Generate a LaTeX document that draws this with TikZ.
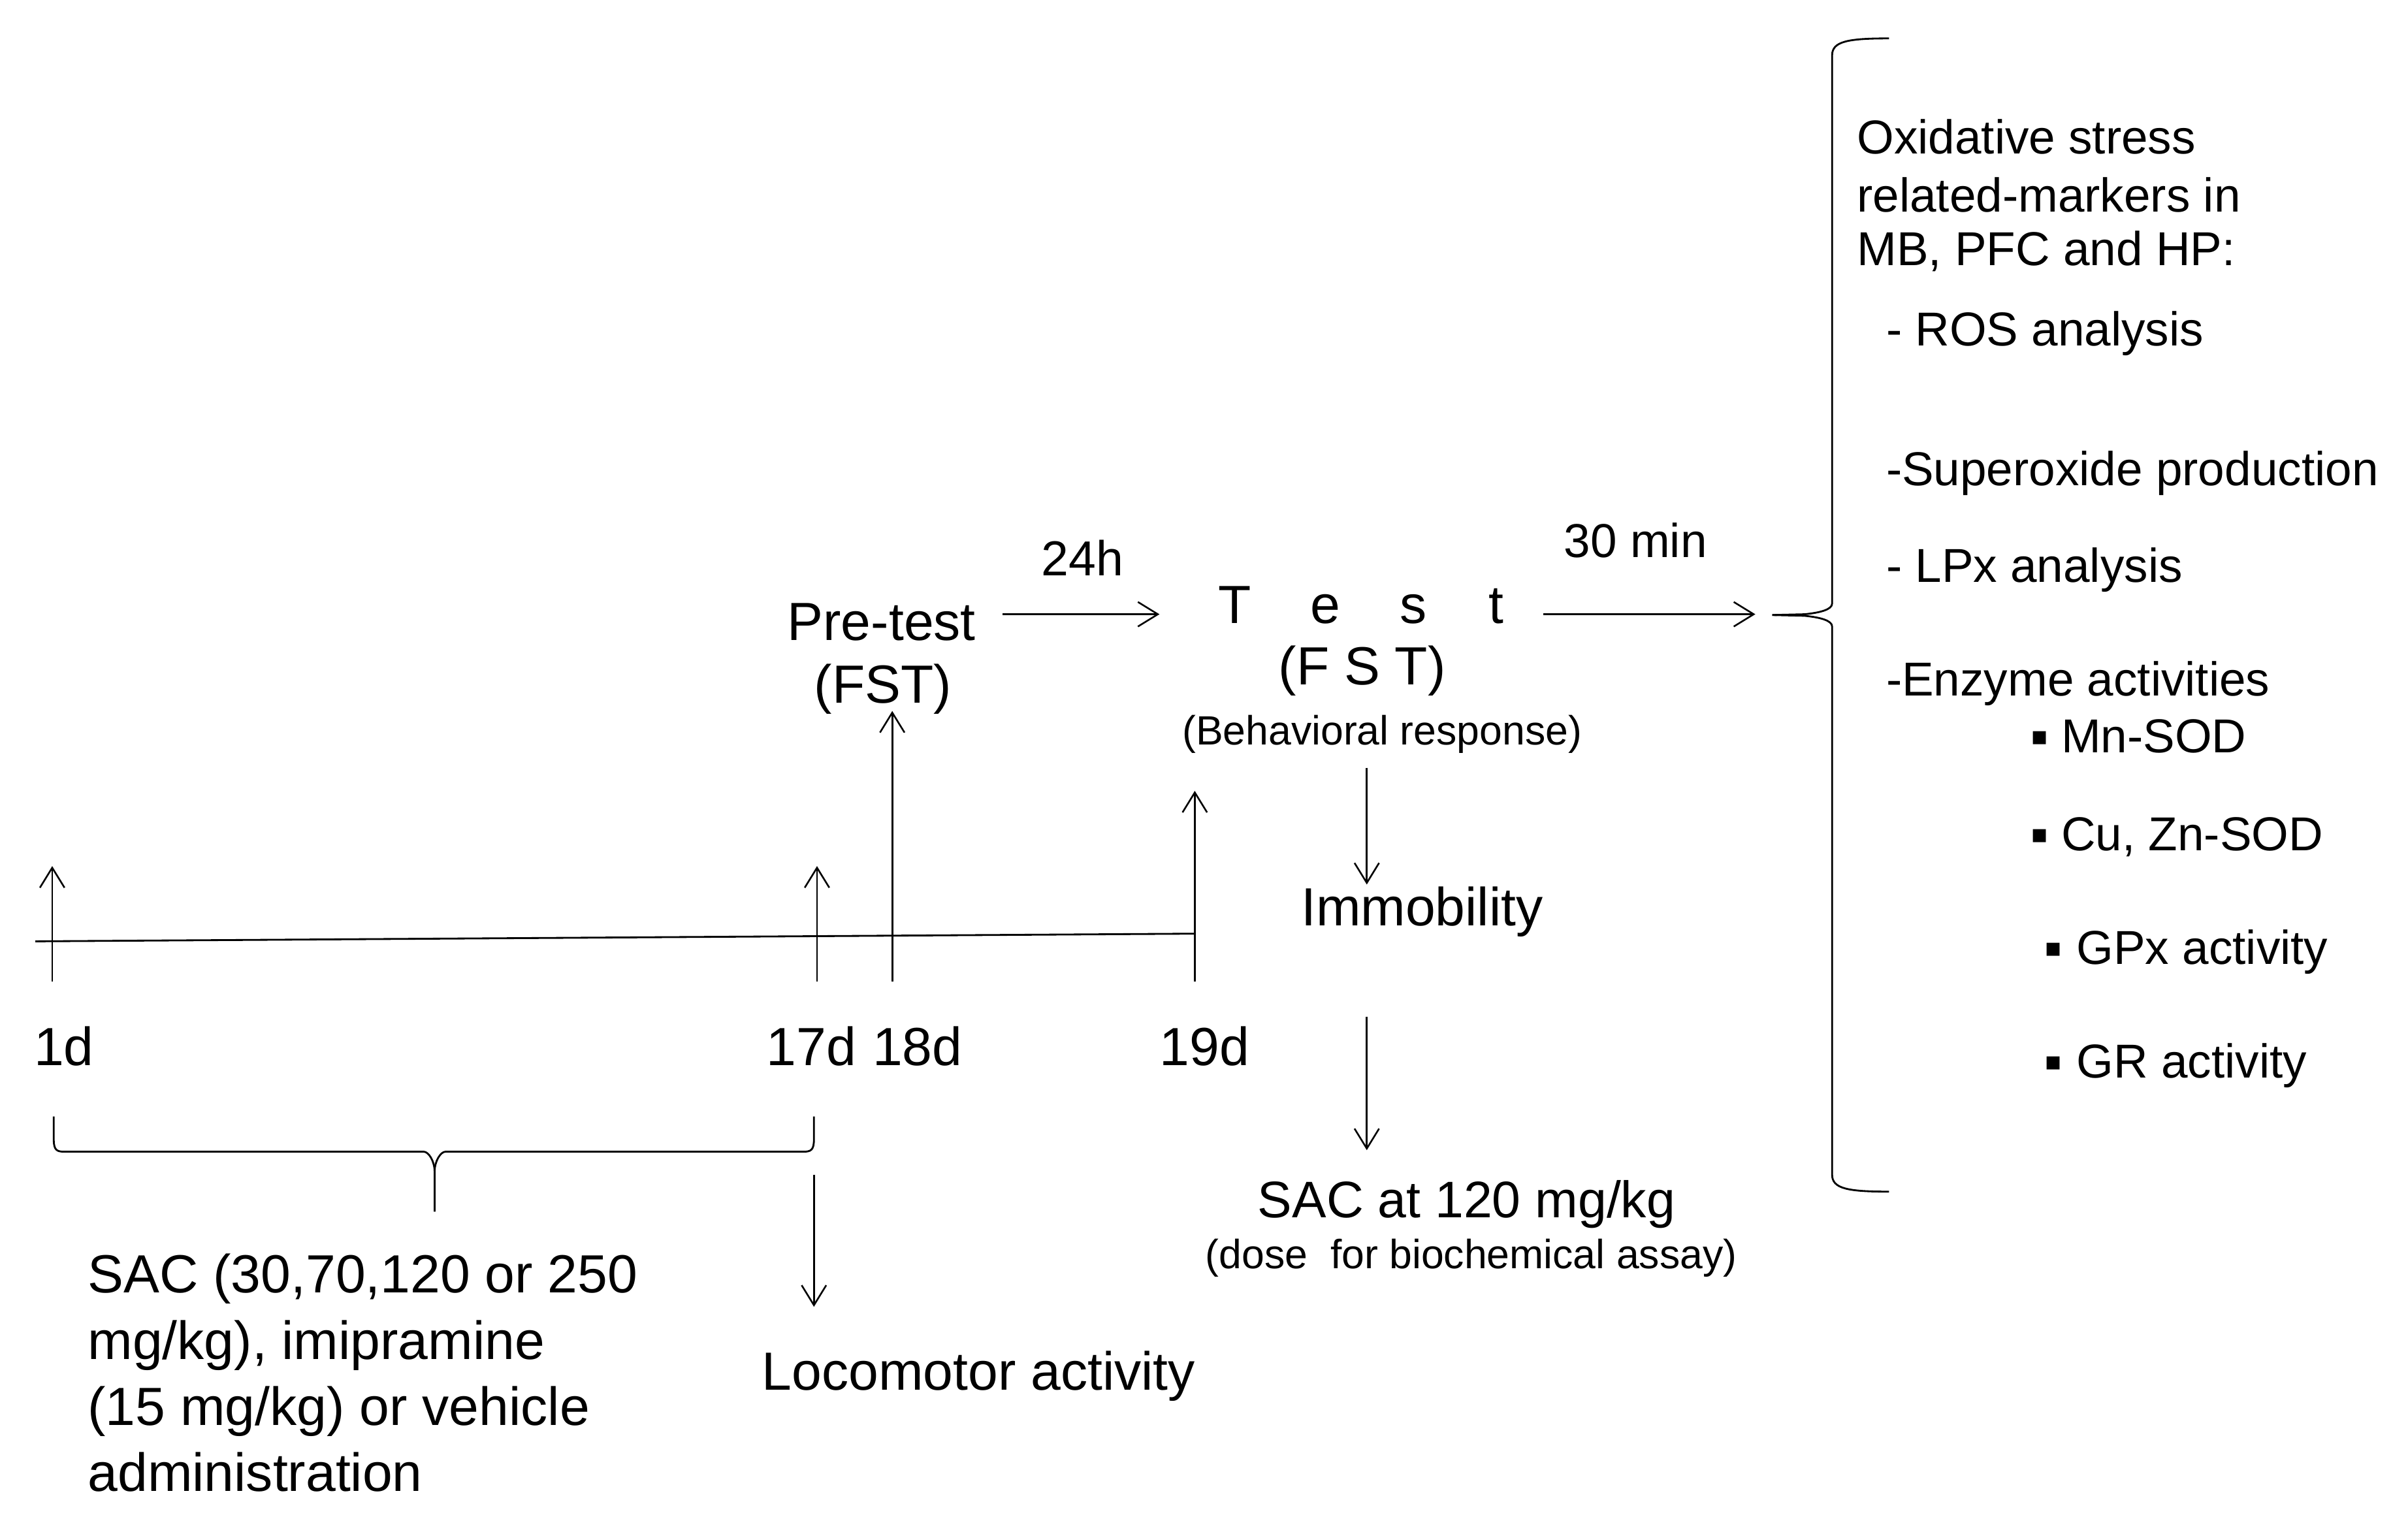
\documentclass[tikz,border=0pt]{standalone}
\usepackage{fontspec}
\setmainfont{Liberation Sans}
\newfontfamily\bulletfont{DejaVu Sans}
\usetikzlibrary{arrows.meta}
\begin{document}
\begin{tikzpicture}[x=1pt,y=-1pt,
  ln/.style={line width=1.2pt,black},
  arr/.style={ln,-{Straight Barb[length=13pt,width=16pt,line width=1.1pt]}},
  big/.style={inner sep=0pt,font=\fontsize{35}{43}\selectfont},
  mid/.style={inner sep=0pt,font=\fontsize{32}{38}\selectfont},
  small/.style={inner sep=0pt,font=\fontsize{26.6}{32}\selectfont},
  rt/.style={inner sep=0pt,font=\fontsize{31}{37}\selectfont,anchor=base west},
  bul/.style={inner sep=0pt,font=\bulletfont\fontsize{17}{20}\selectfont,anchor=base}]
\useasboundingbox (0,0) rectangle (1568,989);

% timeline
\coordinate (tl0) at (23,613);
\coordinate (tl1) at (778,608);
\draw[ln] (tl0) -- (tl1);
\coordinate (d1b) at (34,639);   \coordinate (d1a) at (34,564);
\coordinate (d17b) at (532,639); \coordinate (d17a) at (532,564);
\coordinate (d18b) at (581,639); \coordinate (d18a) at (581,463);
\coordinate (d19b) at (778,639); \coordinate (d19a) at (778,515);
\draw[arr] (d1b) -- (d1a);
\draw[arr] (d17b) -- (d17a);
\draw[arr] (d18b) -- (d18a);
\draw[arr] (d19b) -- (d19a);

\node[big,anchor=base west] (l1d) at (22,694) {1d};
\node[big,anchor=base west] (l17d) at (499,694) {17d};
\node[big,anchor=base west] (l18d) at (568,694) {18d};
\node[big,anchor=base west] (l19d) at (755,694) {19d};

% bottom brace
\coordinate (bl) at (35,727);
\coordinate (br) at (530,727);
\coordinate (bm) at (283,789);
\draw[ln] (bl) -- (35,742) .. controls (35,749) and (37,750) .. (42,750)
  -- (276,750) .. controls (279,750) and (283,756) .. (283,763) -- (bm);
\draw[ln] (br) -- (530,742) .. controls (530,749) and (528,750) .. (523,750)
  -- (290,750) .. controls (287,750) and (283,756) .. (283,763);

\node[big,anchor=base west] (sac1) at (57,842) {SAC (30,70,120 or 250};
\node[big,anchor=base west] (sac2) at (57,885) {mg/kg), imipramine};
\node[big,anchor=base west] (sac3) at (57,928) {(15 mg/kg) or vehicle};
\node[big,anchor=base west] (sac4) at (57,971) {administration};

\coordinate (loca) at (530,765);
\node[big,anchor=base west] (loc) at (496,905) {Locomotor activity};
\coordinate (locb) at (530,851);
\draw[arr] (loca) -- (locb);

% pre-test and test
\node[big,anchor=base] (pre1) at (574,417) {Pre-test};
\node[big,anchor=base] (pre2) at (575,458) {(FST)};
\coordinate (a24s) at (653,400);
\coordinate (a24e) at (755,400);
\draw[arr] (a24s) -- (a24e);
\node[mid,anchor=base] (h24) at (705,375) {24h};

\node[big,anchor=base west] (test) at (804,406)
  {\makebox[0pt]{T}\hspace{59pt}\makebox[0pt]{e}\hspace{57pt}\makebox[0pt]{s}\hspace{54pt}\makebox[0pt]{t}};
\node[big,anchor=base] (fst) at (887,446) {(F S T)};
\node[small,anchor=base] (beh) at (900,485) {(Behavioral response)};

\coordinate (a30s) at (1005,400);
\coordinate (a30e) at (1143,400);
\draw[arr] (a30s) -- (a30e);
\node[inner sep=0pt,font=\fontsize{31}{37}\selectfont,anchor=base] (m30) at (1065,363) {30 min};

\coordinate (imA) at (890,500);
\coordinate (imB) at (890,576);
\draw[arr] (imA) -- (imB);
\node[big,anchor=base west] (imm) at (847,603) {Immobility};
\coordinate (sA) at (890,662);
\coordinate (sB) at (890,749);
\draw[arr] (sA) -- (sB);
\node[inner sep=0pt,font=\fontsize{33.5}{40}\selectfont,anchor=base] (sac120) at (955,793) {SAC at 120 mg/kg};
\node[small,anchor=base] (dose) at (958,826) {(dose\ \ for biochemical assay)};

% right brace
\coordinate (rbt) at (1230,25);
\coordinate (rbb) at (1230,776);
\coordinate (rbtip) at (1154,400.5);
\draw[ln] (rbt) .. controls (1203,25) and (1193,27) .. (1193,36)
  -- (1193,393) .. controls (1193,397) and (1185,399) .. (1175,400)
  -- (rbtip);
\draw[ln] (rbb) .. controls (1203,776) and (1193,774) .. (1193,765)
  -- (1193,408) .. controls (1193,404) and (1185,402) .. (1175,401)
  -- (rbtip);

% right text
\node[rt] (o1) at (1209,100) {Oxidative stress};
\node[rt] (o2) at (1209,138) {related-markers in};
\node[rt] (o3) at (1209,173) {MB, PFC and HP:};
\node[rt] (ros) at (1228,225) {- ROS analysis};
\node[rt] (sup) at (1228,316) {-Superoxide production};
\node[rt] (lpx) at (1228,379) {- LPx analysis};
\node[rt] (enz) at (1228,453) {-Enzyme activities};
\node[bul] (b1) at (1328,485) {▪};
\node[rt] (mn) at (1342,490) {Mn-SOD};
\node[bul] (b2) at (1328,549) {▪};
\node[rt] (cu) at (1342,554) {Cu, Zn-SOD};
\node[bul] (b3) at (1337,623) {▪};
\node[rt] (gpx) at (1352,628) {GPx activity};
\node[bul] (b4) at (1337,697) {▪};
\node[rt] (gr) at (1352,702) {GR activity};
\end{tikzpicture}
\end{document}
